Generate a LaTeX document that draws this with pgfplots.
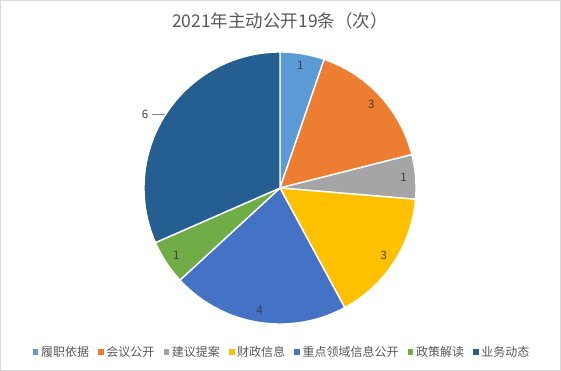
\documentclass[border=0pt]{standalone}
\usepackage{pgfplots}
\pgfplotsset{compat=1.18}
\usepackage{pgfplotstable}
\usepackage{fontspec}
\setmainfont{Noto Sans CJK SC}
\definecolor{c1}{HTML}{5B9BD5}
\definecolor{c2}{HTML}{ED7D31}
\definecolor{c3}{HTML}{A5A5A5}
\definecolor{c4}{HTML}{FFC000}
\definecolor{c5}{HTML}{4472C4}
\definecolor{c6}{HTML}{70AD47}
\definecolor{c7}{HTML}{255E91}
\definecolor{txt}{HTML}{595959}
\definecolor{lbl}{HTML}{404040}
\definecolor{frame}{HTML}{D9D9D9}

\pgfplotstableread{
label value color
履职依据 1 c1
会议公开 3 c2
建议提案 1 c3
财政信息 3 c4
重点领域信息公开 4 c5
政策解读 1 c6
业务动态 6 c7
}\piedata

% pie geometry (pixel units)
\def\cx{280}\def\cy{183}\def\rad{136}\def\lr{124}
% totals and angles
\gdef\total{0}
\foreach \i in {0,...,6}{%
  \pgfplotstablegetelem{\i}{value}\of\piedata
  \pgfmathsetmacro\t{\total+\pgfplotsretval}%
  \xdef\total{\t}%
}
\gdef\cum{0}
\foreach \i in {0,...,6}{%
  \pgfplotstablegetelem{\i}{value}\of\piedata
  \xdef\curval{\pgfplotsretval}%
  \pgfplotstablegetelem{\i}{color}\of\piedata
  \expandafter\xdef\csname col\i\endcsname{\pgfplotsretval}%
  \expandafter\xdef\csname val\i\endcsname{\curval}%
  \pgfmathsetmacro\sa{90-360*\cum/\total}%
  \pgfmathsetmacro\nc{\cum+\curval}%
  \pgfmathsetmacro\ea{90-360*\nc/\total}%
  \pgfmathsetmacro\ma{(\sa+\ea)/2}%
  \pgfmathsetmacro\lx{\cx+\lr*cos(\ma)}%
  \pgfmathsetmacro\ly{\cy+\lr*sin(\ma)}%
  \expandafter\xdef\csname sa\i\endcsname{\sa}%
  \expandafter\xdef\csname ea\i\endcsname{\ea}%
  \expandafter\xdef\csname lx\i\endcsname{\lx}%
  \expandafter\xdef\csname ly\i\endcsname{\ly}%
  \xdef\cum{\nc}%
}

\begin{document}
\begin{tikzpicture}[x=1pt,y=1pt]
\fill[white] (0,0) rectangle (561,371);
\begin{axis}[
  at={(0,0)}, anchor=south west,
  x=1pt, y=1pt,
  xmin=0, xmax=561, ymin=0, ymax=371,
  hide axis, clip=false,
  legend columns=-1,
  legend style={
    at={(axis cs:278.5,19)}, anchor=center,
    draw=none, fill=none,
    font=\fontsize{12}{14}\selectfont,
    text=txt,
    inner sep=0pt,
    nodes={inner xsep=2pt, inner ysep=1pt},
    /tikz/every even column/.style={column sep=0pt},
    /tikz/every odd column/.style={column sep=0pt},
  },
  legend image code/.code={\path (-6.5pt,0) -- (5.5pt,0);\fill[#1, draw=none] (0pt,-2.6pt) rectangle (5.5pt,2.9pt);},
]
\pgfplotsinvokeforeach{0,...,6}{%
  \edef\temp{\noexpand\addplot[fill=\csname col#1\endcsname, draw=white, line width=1.4pt, line join=round,
    domain=\csname ea#1\endcsname:\csname sa#1\endcsname, samples=80]
    ({\cx+\rad*cos(x)},{\cy+\rad*sin(x)}) -- (axis cs:\cx,\cy) -- cycle;}%
  \temp
}
\pgfplotsinvokeforeach{0,...,5}{%
  \edef\temp{\noexpand\node[text=lbl, font=\noexpand\fontsize{11.5}{13}\noexpand\selectfont]
    at (axis cs:\csname lx#1\endcsname,\csname ly#1\endcsname) {\csname val#1\endcsname};}%
  \temp
}
\draw[lbl!60, line width=0.6pt] (axis cs:152,257) -- (axis cs:165,257);
\node[text=lbl, font=\fontsize{11.5}{13}\selectfont] at (axis cs:145,257) {\csname val6\endcsname};
\node[text=txt, font=\fontsize{17.5}{20}\selectfont] at (axis cs:280,350) {2021年主动公开19条（次）};
\legend{履职依据,会议公开,建议提案,财政信息,重点领域信息公开,政策解读,业务动态}
\end{axis}
\draw[frame, line width=1pt] (0.5,0.5) rectangle (560.5,370.5);
\end{tikzpicture}
\end{document}
